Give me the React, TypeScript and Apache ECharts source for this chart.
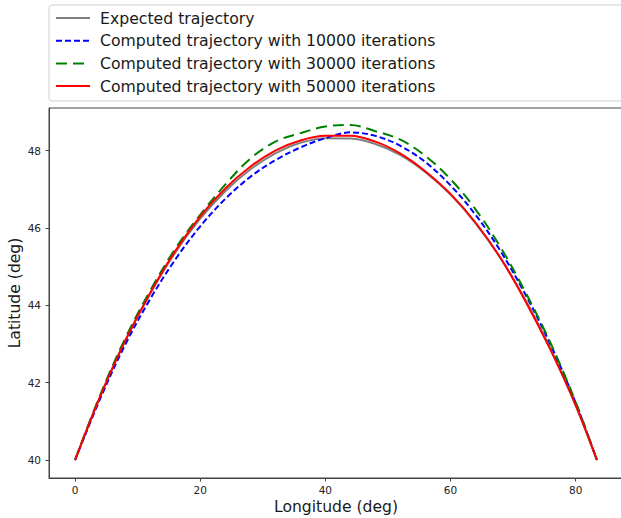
import React, { useEffect, useRef } from "react";
import * as echarts from "echarts";

const longitudes = [0, 4, 8, 12, 16, 20, 24, 28, 32, 36, 40, 44, 48, 52, 56, 60, 64, 68, 72, 76, 80, 83.4];
const expectedLat = [40, 41.64, 43.08, 44.3, 45.36, 46.24, 46.95, 47.51, 47.93, 48.2, 48.32, 48.31, 48.17, 47.88, 47.44, 46.86, 46.12, 45.22, 44.13, 42.88, 41.41, 40];
const lat10000 = [40, 41.58, 42.98, 44.16, 45.18, 46.04, 46.75, 47.32, 47.75, 48.08, 48.32, 48.47, 48.38, 48.12, 47.7, 47.1, 46.34, 45.4, 44.27, 42.98, 41.48, 40];
const lat30000 = [40, 41.68, 43.14, 44.38, 45.46, 46.34, 47.12, 47.79, 48.23, 48.45, 48.62, 48.66, 48.5, 48.28, 47.86, 47.26, 46.48, 45.5, 44.33, 43.02, 41.5, 40];
const lat50000 = [40, 41.64, 43.08, 44.32, 45.4, 46.3, 47.02, 47.58, 48.0, 48.26, 48.38, 48.38, 48.23, 47.92, 47.46, 46.88, 46.14, 45.22, 44.1, 42.84, 41.42, 40];
const seriesNames = [
  "Expected trajectory",
  "Computed trajectory with 10000 iterations",
  "Computed trajectory with 30000 iterations",
  "Computed trajectory with 50000 iterations",
];
const xTicks = [0, 20, 40, 60, 80];
const yTicks = [40, 42, 44, 46, 48];

const FONT = "DejaVu Sans";

export default function App() {
  const ref = useRef<HTMLDivElement>(null);
  useEffect(() => {
    if (!ref.current) return;
    const chart = echarts.init(ref.current, null, { renderer: "svg" });
    const mk = (lats: number[]) => longitudes.map((x, i) => [x, lats[i]]);
    const lineSeries = (name: string, lats: number[], color: string, type: any) => ({
      name,
      type: "line",
      data: mk(lats),
      symbol: "none",
      showSymbol: false,
      smooth: 0.35,
      lineStyle: { color, width: 2, type, cap: "butt" },
      itemStyle: { color },
    });
    chart.setOption({
      animation: false,
      backgroundColor: "#fff",
      grid: {
        left: 49,
        top: 108,
        width: 574,
        height: 370,
        show: true,
        borderColor: "#444",
        borderWidth: 1,
        backgroundColor: "transparent",
        containLabel: false,
        outerBoundsMode: "none",
      },
      graphic: [
        {
          type: "rect",
          shape: { x: 49, y: 5, width: 600, height: 96, r: 3 },
          style: { fill: "#fff", stroke: "#d0d0d0", lineWidth: 1 },
          z: 0,
        },
      ],
      legend: {
        orient: "vertical",
        left: 55,
        top: 10,
        padding: 0,
        itemWidth: 34,
        itemHeight: 12,
        itemGap: 6.7,
        data: seriesNames,
        itemStyle: { opacity: 0 },
        lineStyle: { width: 2 },
        textStyle: {
          fontSize: 15.7,
          fontFamily: FONT,
          color: "#1a1a1a",
          lineHeight: 16,
          padding: [0, 0, 0, 5],
        },
        z: 5,
      },
      xAxis: {
        type: "value",
        min: -4.17,
        max: 87.57,
        name: "Longitude (deg)",
        nameLocation: "middle",
        nameGap: 21,
        nameMoveOverlap: false,
        nameTextStyle: { fontSize: 15.6, fontFamily: FONT, color: "#1a1a1a" },
        axisLine: { show: true, onZero: false, lineStyle: { color: "#444", width: 1 } },
        axisTick: { show: true, length: 3.5, customValues: xTicks, lineStyle: { color: "#444" } },
        axisLabel: { customValues: xTicks, fontSize: 10.5, fontFamily: FONT, color: "#222", margin: 6 },
        splitLine: { show: false },
      },
      yAxis: {
        type: "value",
        min: 39.535,
        max: 49.1,
        name: "Latitude (deg)",
        nameLocation: "middle",
        nameGap: 26,
        nameRotate: 90,
        nameMoveOverlap: false,
        nameTextStyle: { fontSize: 15.6, fontFamily: FONT, color: "#1a1a1a" },
        axisLine: { show: true, onZero: false, lineStyle: { color: "#444", width: 1 } },
        axisTick: { show: true, length: 3.5, customValues: yTicks, lineStyle: { color: "#444" } },
        axisLabel: { customValues: yTicks, fontSize: 10.5, fontFamily: FONT, color: "#222", margin: 8 },
        splitLine: { show: false },
      },
      series: [
        lineSeries(seriesNames[0], expectedLat, "#808080", "solid"),
        lineSeries(seriesNames[1], lat10000, "#0000ff", [6, 3]),
        lineSeries(seriesNames[2], lat30000, "#008000", [11, 6]),
        lineSeries(seriesNames[3], lat50000, "#ff0000", "solid"),
      ],
    });
    return () => chart.dispose();
  }, []);
  return <div ref={ref} style={{ width: 621, height: 518, position: "absolute", left: 0, top: 0 }} />;
}
